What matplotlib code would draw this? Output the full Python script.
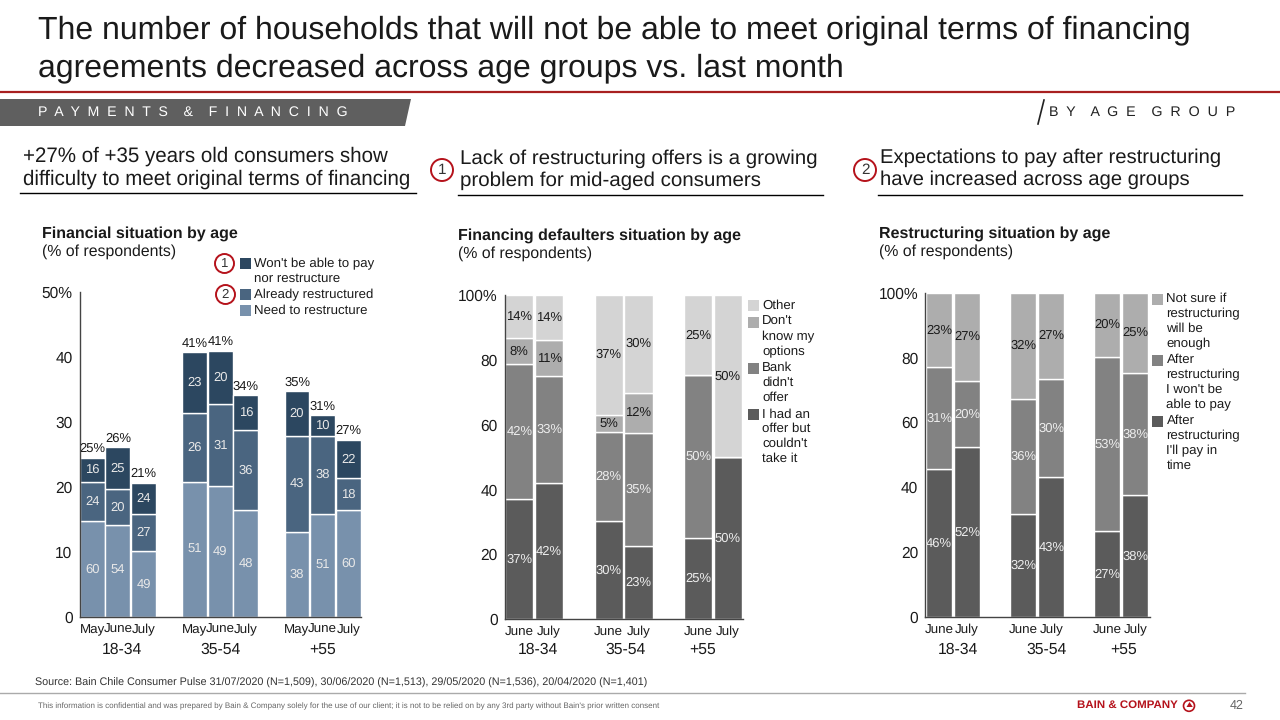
import numpy as np
import matplotlib
matplotlib.use('Agg')
import matplotlib.pyplot as plt
from matplotlib.patches import Circle, Polygon, Rectangle

plt.rcParams['font.family'] = ['Liberation Sans', 'DejaVu Sans']
plt.rcParams['text.hinting'] = 'no_hinting'

# Financial situation by age (May, June, July in each age group)
fin_months = ['May', 'June', 'July', 'May', 'June', 'July', 'May', 'June', 'July']
fin_need = [14.7, 14.2, 10.1, 20.8, 20.1, 16.4, 13.1, 15.9, 16.4]
fin_already = [6.0, 5.4, 5.7, 10.6, 12.6, 12.3, 14.7, 11.9, 4.9]
fin_wont = [3.8, 6.5, 4.8, 9.3, 8.2, 5.4, 6.9, 3.2, 5.9]
fin_need_labels = ['60', '54', '49', '51', '49', '48', '38', '51', '60']
fin_already_labels = ['24', '20', '27', '26', '31', '36', '43', '38', '18']
fin_wont_labels = ['16', '25', '24', '23', '20', '16', '20', '10', '22']
fin_totals = ['25%', '26%', '21%', '41%', '41%', '34%', '35%', '31%', '27%']

# Financing defaulters situation (June, July in each age group)
def_months = ['June', 'July', 'June', 'July', 'June', 'July']
def_offer = [37.0, 41.9, 30.2, 22.5, 25.0, 50.0]
def_bank = [41.6, 33.0, 27.7, 35.1, 50.3, 0]
def_dont = [8.0, 11.1, 5.1, 12.2, 0, 0]
def_other = [13.4, 14.0, 37.0, 30.2, 24.7, 50.0]
def_offer_labels = ['37%', '42%', '30%', '23%', '25%', '50%']
def_bank_labels = ['42%', '33%', '28%', '35%', '50%', '']
def_dont_labels = ['8%', '11%', '5%', '12%', '', '']
def_other_labels = ['14%', '14%', '37%', '30%', '25%', '50%']

# Restructuring situation
res_pay = [45.6, 52.4, 31.7, 43.1, 26.5, 37.6]
res_wont = [31.4, 20.3, 35.7, 30.2, 53.6, 37.6]
res_unsure = [23.0, 27.3, 32.6, 26.7, 19.9, 24.8]
res_pay_labels = ['46%', '52%', '32%', '43%', '27%', '38%']
res_wont_labels = ['31%', '20%', '36%', '30%', '53%', '38%']
res_unsure_labels = ['23%', '27%', '32%', '27%', '20%', '25%']

age_groups = ['18-34', '35-54', '+55']

BLUE_LIGHT = '#7891AC'
BLUE_MID = '#4A6580'
BLUE_DARK = '#2C4760'
GREYS = ['#5B5B5B', '#828282', '#ADADAD', '#D4D4D4']
RED = '#B5121B'
INK = '#1A1A1A'

fig = plt.figure(figsize=(12.8, 7.2), dpi=100)

# overlay in pixel coordinates for the slide furniture
page = fig.add_axes([0, 0, 1, 1])
page.set_xlim(0, 1280)
page.set_ylim(720, 0)
page.axis('off')


def txt(x, y, s, size, color=INK, ha='left', va='center', **kw):
    page.text(x, y + 2, s, fontsize=size, color=color, ha=ha, va=va, **kw)


def panel(left, right, top, bottom, xpos, xlim, series, labels, colors, label_colors,
          months, ymax, yticks, width):
    ax = fig.add_axes([left / 1280, 1 - bottom / 720, (right - left) / 1280, (bottom - top) / 720])
    ax.patch.set_alpha(0)
    base = np.zeros(len(xpos))
    for vals, labs, col, lc in zip(series, labels, colors, label_colors):
        vals = np.array(vals)
        ax.bar(xpos, vals, width, bottom=base, color=col, edgecolor='white', linewidth=1)
        for x, b, v, lab in zip(xpos, base, vals, labs):
            if lab:
                ax.text(x, b + v / 2, lab, ha='center', va='center', fontsize=9.4, color=lc)
        base = base + vals
    ax.set_xlim(xlim)
    ax.set_ylim(0, ymax)
    ax.set_xticks(xpos)
    ax.set_xticklabels(months, fontsize=9.6, color=INK)
    ax.set_yticks(yticks)
    ax.set_yticklabels([str(t) if t != ymax else str(t) + '%' for t in yticks], fontsize=11.2, color=INK)
    ax.tick_params(length=0, pad=5)
    ax.tick_params(axis='x', pad=5)
    for s in ['top', 'right']:
        ax.spines[s].set_visible(False)
    for s in ['left', 'bottom']:
        ax.spines[s].set_color('#444444')
        ax.spines[s].set_linewidth(1)
        ax.spines[s].set_zorder(5)
    return ax, base


def legend_block(x, entries, color_list, text_x, size=9.5):
    # entries: (square top y, [(line y, string), ...])
    for (sq_y, lines), col in zip(entries, color_list):
        page.add_patch(Rectangle((x, sq_y), 11, 11, color=col, lw=0))
        for ly, s in lines:
            txt(text_x, ly, s, size)


def badge(x, y, r, s, size):
    page.add_patch(Circle((x, y), r, fc='white', ec=RED, lw=1.4, zorder=4))
    txt(x, y - 1.5, s, size, ha='center', color='#333333', zorder=5)


# title
txt(38, 28, 'The number of households that will not be able to meet original terms of financing', 23)
txt(38, 66, 'agreements decreased across age groups vs. last month', 23)
page.plot([0, 1280], [91.5, 91.5], color='#A82020', lw=1.6)

# banner
page.add_patch(Polygon([(0, 99), (411, 99), (405, 126), (0, 126)], color='#5F5F5F', lw=0))
txt(38, 110.5, 'P  A  Y  M  E  N  T  S    &    F  I  N  A  N  C  I  N  G', 10.16, color='white')
txt(1049, 110.5, 'B  Y    A  G  E    G  R  O  U  P', 10.3, color='#222222')
page.plot([1038, 1044], [124, 100], color='#222222', lw=1.2)

# column headings
txt(23, 154.5, '+27% of +35 years old consumers show', 14.78)
txt(23, 177.5, 'difficulty to meet original terms of financing', 14.78)
page.plot([20, 416], [193, 193], color='black', lw=1)
txt(460, 157, 'Lack of restructuring offers is a growing', 14.75)
txt(460, 179, 'problem for mid-aged consumers', 14.75)
page.plot([458, 823], [194.5, 194.5], color='black', lw=1)
txt(880, 156, 'Expectations to pay after restructuring', 14.62)
txt(880, 178, 'have increased across age groups', 14.62)
page.plot([878, 1242], [194.5, 194.5], color='black', lw=1)
badge(442, 170, 11, '1', 11)
badge(865, 170, 11, '2', 11)

# chart titles
txt(42, 232, 'Financial situation by age', 11.5, fontweight='bold')
txt(42, 250, '(% of respondents)', 11.4)
txt(458, 234, 'Financing defaulters situation by age', 11.5, fontweight='bold')
txt(458, 252, '(% of respondents)', 11.4)
txt(879, 232, 'Restructuring situation by age', 11.5, fontweight='bold')
txt(879, 250, '(% of respondents)', 11.4)

# left chart
pos_fin = [0, 1, 2, 4, 5, 6, 8, 9, 10]
ax1, tops = panel(79.5, 361, 291.7, 617, pos_fin, (-0.5, 10.5),
                  [fin_need, fin_already, fin_wont],
                  [fin_need_labels, fin_already_labels, fin_wont_labels],
                  [BLUE_LIGHT, BLUE_MID, BLUE_DARK], ['#E8E8E8'] * 3,
                  fin_months, 50, [0, 10, 20, 30, 40, 50], 0.97)
for x, t, lab in zip(pos_fin, tops, fin_totals):
    ax1.text(x, t + 0.45, lab, ha='center', va='bottom', fontsize=9.4, color=INK, clip_on=False)
legend_block(240, [(257.7, [(261.5, "Won't be able to pay"), (276.5, 'nor restructure')]),
                   (289, [(293, 'Already restructured')]),
                   (305, [(309, 'Need to restructure')])],
             [BLUE_DARK, BLUE_MID, BLUE_LIGHT], 254)
badge(224.5, 263.5, 9.5, '1', 9.5)
badge(225.5, 294.5, 9.5, '2', 9.5)
for x, g in zip([121.7, 220.7, 322.3], age_groups):
    txt(x, 648, g, 11.3, ha='center')

# middle chart
pos_two = [0, 1, 3, 4, 6, 7]
panel(504.7, 742.7, 295, 619.3, pos_two, (-0.49, 7.5),
      [def_offer, def_bank, def_dont, def_other],
      [def_offer_labels, def_bank_labels, def_dont_labels, def_other_labels],
      GREYS, ['#EEEEEE', '#EEEEEE', INK, INK],
      def_months, 100, [0, 20, 40, 60, 80, 100], 0.95)
legend_block(748, [(300, [(303.5, 'Other')]),
                   (316.7, [(320, "Don't"), (335, 'know my'), (350, 'options')]),
                   (363, [(366, 'Bank'), (381, "didn't"), (396, 'offer')]),
                   (409, [(412.5, 'I had an'), (427, 'offer but'), (442, "couldn't"), (457, 'take it')])],
             [GREYS[3], GREYS[2], GREYS[1], GREYS[0]], 762)
for x, g in zip([538, 626, 703], age_groups):
    txt(x, 648, g, 11.3, ha='center')

# right chart
panel(925.3, 1150, 292.7, 617.3, pos_two, (-0.49, 7.52),
      [res_pay, res_wont, res_unsure],
      [res_pay_labels, res_wont_labels, res_unsure_labels],
      GREYS[:3], ['#EEEEEE', '#EEEEEE', INK],
      def_months, 100, [0, 20, 40, 60, 80, 100], 0.93)
legend_block(1152.3, [(294, [(297, 'Not sure if'), (312, 'restructuring'), (327, 'will be'), (342, 'enough')]),
                      (355, [(358, 'After'), (373, 'restructuring'), (388, "I won't be"), (403, 'able to pay')]),
                      (416, [(419, 'After'), (434, 'restructuring'), (449, "I'll pay in"), (464, 'time')])],
             [GREYS[2], GREYS[1], GREYS[0]], 1166.5)
for x, g in zip([958, 1046.7, 1124], age_groups):
    txt(x, 648, g, 11.3, ha='center')

# footer
txt(35, 681, 'Source: Bain Chile Consumer Pulse 31/07/2020 (N=1,509), 30/06/2020 (N=1,513), 29/05/2020 (N=1,536), 20/04/2020 (N=1,401)', 7.73, color='#333333')
page.plot([0, 1245], [692.5, 692.5], color='#AAAAAA', lw=1)
txt(38, 704, "This information is confidential and was prepared by Bain & Company solely for the use of our client; it is not to be relied on by any 3rd party without Bain's prior written consent", 5.73, color='#666666')
txt(1077, 703, 'BAIN & COMPANY', 8.25, color=RED, fontweight='bold')
page.add_patch(Circle((1189, 705.8), 5.5, fc='none', ec=RED, lw=1.2))
page.add_patch(Polygon([(1189.5, 702), (1192.8, 707), (1186.5, 707)], color=RED, lw=0))
txt(1244, 704, '42', 9, color='#666666', ha='right')

fig.savefig('out.png', dpi=100)
